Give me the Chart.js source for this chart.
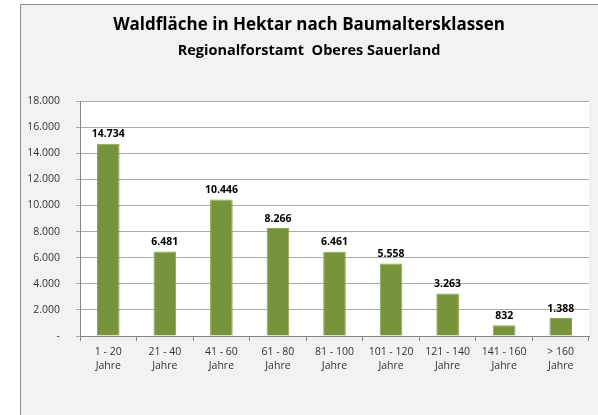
<!DOCTYPE html>
<html><head><meta charset="utf-8">
<script src="https://cdn.jsdelivr.net/npm/chart.js@4"></script>
<style>html,body{margin:0;padding:0;background:#fff;}#wrap{width:598px;height:415px;}</style>
</head><body><div id="wrap"><canvas id="c" width="598" height="415"></canvas></div>
<script>
const categories = [['1 - 20','Jahre'],['21 - 40','Jahre'],['41 - 60','Jahre'],['61 - 80','Jahre'],['81 - 100','Jahre'],['101 - 120','Jahre'],['121 - 140','Jahre'],['141 - 160','Jahre'],['> 160','Jahre']];
const hectares = [14734, 6481, 10446, 8266, 6461, 5558, 3263, 832, 1388];
const yTickLabels = ['-', '2.000', '4.000', '6.000', '8.000', '10.000', '12.000', '14.000', '16.000', '18.000'];
const titleText = 'Waldfläche in Hektar nach Baumaltersklassen';
const subtitleText = 'Regionalforstamt  Oberes Sauerland';

const FONT = '"Open Sans", "Noto Sans", sans-serif';
function fmt(v){ return String(v).replace(/\B(?=(\d{3})+(?!\d))/g, '.'); }

const deco = {
  id: 'deco',
  beforeDraw(chart){
    const ctx = chart.ctx, a = chart.chartArea;
    ctx.save();
    ctx.fillStyle = '#ffffff';
    ctx.fillRect(0,0,chart.width,chart.height);
    ctx.fillStyle = '#f2f2f2';
    ctx.fillRect(20,4,chart.width-20,chart.height-4);
    ctx.strokeStyle = '#8c8c8c';
    ctx.lineWidth = 1;
    ctx.beginPath();
    ctx.moveTo(20.5, chart.height); ctx.lineTo(20.5, 4.5); ctx.lineTo(chart.width, 4.5);
    ctx.stroke();
    ctx.fillStyle = '#ffffff';
    ctx.fillRect(a.left, a.top, a.right-a.left, a.bottom-a.top);
    ctx.fillStyle = '#000000';
    ctx.textAlign = 'center';
    ctx.textBaseline = 'middle';
    ctx.font = 'bold 17px ' + FONT;
    ctx.fillText(titleText, 309, 25);
    ctx.font = 'bold 14.5px ' + FONT;
    ctx.fillText(subtitleText, 309, 51);
    ctx.restore();
  },
  afterDatasetsDraw(chart){
    const ctx = chart.ctx;
    const meta = chart.getDatasetMeta(0);
    ctx.save();
    ctx.fillStyle = '#000000';
    ctx.font = 'bold 10.5px ' + FONT;
    ctx.textAlign = 'center';
    ctx.textBaseline = 'bottom';
    meta.data.forEach((bar, i) => {
      ctx.fillText(fmt(chart.data.datasets[0].data[i]), bar.x, bar.y - 4);
    });
    ctx.restore();
  }
};

new Chart(document.getElementById('c'), {
  type: 'bar',
  data: {
    labels: categories,
    datasets: [{
      data: hectares,
      backgroundColor: '#77933c',
      borderColor: '#8aa64e',
      borderWidth: 1,
      barPercentage: 0.4,
      categoryPercentage: 1.0
    }]
  },
  options: {
    responsive: false,
    animation: false,
    devicePixelRatio: 1,
    layout: { padding: { left: 20, top: 101, right: 9, bottom: 0 } },
    plugins: { legend: { display: false }, tooltip: { enabled: false }, title: { display: false } },
    scales: {
      x: {
        offset: true,
        grid: { offset: true, drawOnChartArea: false, drawTicks: true, tickLength: 5, color: '#868686' },
        border: { color: '#868686' },
        ticks: { color: '#333333', font: { family: FONT, size: 10.5, lineHeight: 1.35 }, padding: 4, maxRotation: 0, autoSkip: false },
        afterFit(s){ s.height = 79; }
      },
      y: {
        min: 0, max: 18000,
        grid: { color: '#ababab', drawTicks: true, tickLength: 4 },
        border: { color: '#868686' },
        ticks: { stepSize: 2000, color: '#333333', font: { family: FONT, size: 10.5 }, padding: 16,
          callback: (v, i) => yTickLabels[i] },
        afterFit(s){ s.width = 60; }
      }
    }
  },
  plugins: [deco]
});
</script></body></html>
